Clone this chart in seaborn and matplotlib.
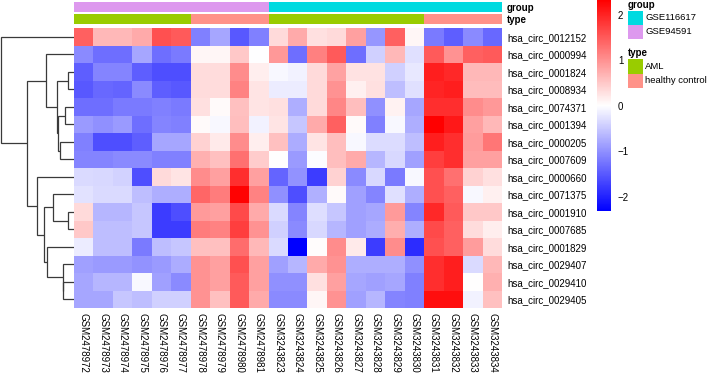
import numpy as np
import pandas as pd
import matplotlib
matplotlib.use("Agg")
import matplotlib.pyplot as plt
import seaborn as sns
from matplotlib.colors import LinearSegmentedColormap, ListedColormap
from matplotlib.patches import Rectangle

# ---------------- data ----------------
samples = ["GSM2478972", "GSM2478973", "GSM2478974", "GSM2478975", "GSM2478976",
           "GSM2478977", "GSM2478978", "GSM2478979", "GSM2478980", "GSM2478981",
           "GSM3243823", "GSM3243824", "GSM3243825", "GSM3243826", "GSM3243827",
           "GSM3243828", "GSM3243829", "GSM3243830", "GSM3243831", "GSM3243832",
           "GSM3243833", "GSM3243834"]

circs = ["hsa_circ_0012152", "hsa_circ_0000994", "hsa_circ_0001824", "hsa_circ_0008934",
         "hsa_circ_0074371", "hsa_circ_0001394", "hsa_circ_0000205", "hsa_circ_0007609",
         "hsa_circ_0000660", "hsa_circ_0071375", "hsa_circ_0001910", "hsa_circ_0007685",
         "hsa_circ_0001829", "hsa_circ_0029407", "hsa_circ_0029410", "hsa_circ_0029405"]

group = ["GSE94591", "GSE94591", "GSE94591", "GSE94591", "GSE94591",
         "GSE94591", "GSE94591", "GSE94591", "GSE94591", "GSE94591",
         "GSE116617", "GSE116617", "GSE116617", "GSE116617", "GSE116617",
         "GSE116617", "GSE116617", "GSE116617", "GSE116617", "GSE116617",
         "GSE116617", "GSE116617"]

sample_type = ["AML", "AML", "AML", "AML", "AML", "AML",
               "healthy control", "healthy control", "healthy control", "healthy control",
               "AML", "AML", "AML", "AML", "AML", "AML", "AML", "AML",
               "healthy control", "healthy control", "healthy control", "healthy control"]

r01 = [1.45, 0.65, 0.65, 0.78, 1.6, 1.5, -1.15, -0.8, -1.5, -1.15, 0.35, 0.78, 0.29, 0.35, 0.87, -0.95, 1.45, 0.1, -1.2, -1.45, -1.05, -1.35]
r02 = [-1.05, -1.3, -1.3, -0.8, -1.3, -1.2, 0.1, 0.1, 0.5, 0.0, 0.95, -1.3, 1.17, 1.5, -1.3, -0.42, 0.65, -0.28, 1.5, 1.0, 1.45, 1.5]
r03 = [-1.45, -1.1, -1.1, -1.45, -1.6, -1.6, 0.32, 0.32, 1.05, 0.17, -0.05, -0.1, 0.35, 0.85, 0.28, 0.28, -0.42, -0.2, 2.05, 1.95, 0.65, 0.65]
r04 = [-1.5, -1.35, -1.4, -1.05, -1.45, -1.5, 0.32, 0.32, 1.15, 0.25, -0.17, -0.17, 0.35, 1.0, 0.15, 0.3, -0.58, -0.28, 2.0, 2.05, 0.62, 0.62]
r05 = [-1.3, -1.3, -1.2, -1.2, -1.15, -1.2, 0.29, 0.05, 0.58, 0.25, 0.3, -0.72, 0.35, 1.1, 0.6, -1.0, 0.12, -0.8, 1.9, 1.9, 1.05, 0.95]
r06 = [-0.9, -1.0, -0.9, -1.3, -1.1, -1.15, 0.05, -0.05, 0.6, -0.1, 0.25, -0.5, 0.78, 1.45, 0.05, -1.15, -0.05, -0.72, 2.33, 2.1, 0.87, 0.65]
r07 = [-1.15, -1.6, -1.6, -1.45, -0.8, -0.8, 0.42, 0.2, 1.05, 0.17, 0.58, -0.75, 0.25, 0.6, -0.05, -0.3, -0.3, -0.58, 2.05, 1.9, 0.9, 1.25]
r08 = [-1.1, -1.1, -1.05, -1.05, -1.15, -1.15, 0.72, 0.58, 1.3, 0.48, 0.02, -0.9, -0.02, 0.6, 0.78, -0.65, -0.35, -0.86, 1.75, 1.9, 0.87, 0.87]
r09 = [-0.32, -0.35, -0.4, -1.6, 0.35, 0.25, 1.05, 0.87, 1.9, 0.87, -1.4, -0.97, -1.75, 0.42, -1.05, -0.35, -1.2, -0.05, 1.6, 1.3, 0.42, 0.29]
r10 = [-0.25, -0.32, -0.32, -0.58, -0.72, -0.72, 1.4, 1.2, 2.3, 1.15, -1.0, -1.6, -0.7, 0.05, -0.86, -1.1, -0.28, -0.72, 1.6, 1.45, -0.05, 0.15]
r11 = [0.35, -0.65, -0.65, -0.5, -1.75, -1.6, 0.92, 0.87, 1.65, 0.78, -0.32, -1.1, -0.29, -0.5, -0.86, -0.8, 0.92, -1.1, 1.95, 1.5, 0.5, 0.5]
r12 = [0.5, -0.58, -0.58, -0.5, -1.75, -1.75, 1.2, 1.15, 1.75, 1.0, -0.42, -1.05, -0.35, -0.65, -0.86, -0.75, 0.75, -0.72, 1.65, 1.45, 0.32, 0.17]
r13 = [-0.17, -0.58, -0.58, -1.2, -0.58, -0.5, 0.58, 0.58, 1.35, 0.65, -0.32, -2.31, 0.03, 1.05, 0.2, -1.75, 1.05, -1.9, 1.6, 1.45, 0.9, 0.32]
r14 = [-0.86, -0.9, -0.9, -0.97, -0.9, -0.75, 1.0, 0.87, 1.6, 0.87, -0.86, -0.65, 0.78, 1.0, -0.72, -0.72, -0.72, -1.0, 1.9, 2.05, -0.32, 0.65]
r15 = [-0.8, -0.65, -0.65, -0.05, -0.86, -1.05, 1.0, 0.87, 1.5, 0.87, -1.0, -1.0, 0.29, 0.87, -0.8, -0.86, -0.8, -1.15, 1.9, 2.05, 0.02, 0.72]
r16 = [-0.8, -0.8, -0.5, -0.58, -0.42, -0.42, 1.0, 0.58, 1.5, 0.78, -1.05, -1.05, 0.1, 1.0, -0.86, -0.65, -1.1, -1.15, 2.2, 2.2, -0.1, 0.58]

# row dendrogram merges: (child_a, child_b, height); leaves 0..15, new clusters 16..
merges = [(2, 3, 17), (4, 5, 27), (6, 7, 42), (17, 18, 47), (16, 19, 50),
          (1, 20, 84), (10, 11, 17), (9, 22, 64), (14, 15, 32), (13, 24, 34),
          (12, 25, 82), (23, 26, 89), (8, 27, 110), (21, 28, 140), (0, 29, 219)]

group_colors = {"GSE116617": "#00DAE0", "GSE94591": "#DD99EE"}
type_colors = {"AML": "#99CC00", "healthy control": "#FF9289"}

# ---------------- figure ----------------
plt.rcParams['font.family'] = ['Liberation Sans', 'DejaVu Sans']
W, H = 708, 373
fig = plt.figure(figsize=(W / 100, H / 100), dpi=100)


def ax_px(l, t, r, b):
    return fig.add_axes([l / W, 1 - b / H, (r - l) / W, (b - t) / H])


mat = pd.DataFrame([r01, r02, r03, r04, r05, r06, r07, r08, r09, r10, r11, r12, r13, r14, r15, r16],
                   index=circs, columns=samples)

cmap = LinearSegmentedColormap.from_list("bwr_ph", ["#0000FF", "#FFFFFF", "#FF0000"], N=256)

ax = ax_px(74, 28, 502, 308)
cax = ax_px(597, 0, 611, 211)
sns.heatmap(mat, ax=ax, cmap=cmap, vmin=-2.31, vmax=2.33, cbar_ax=cax,
            xticklabels=True, yticklabels=True, linewidths=0)
ax.yaxis.tick_right()
ax.tick_params(axis='y', length=0, pad=3.6, labelsize=7, labelrotation=0)
ax.tick_params(axis='x', length=0, pad=3.6, labelsize=7)
for t in ax.get_yticklabels():
    t.set_rotation(0)
    t.set_ha('left')
for t in ax.get_xticklabels():
    t.set_rotation(270)
    t.set_va('top')
    t.set_ha('center')
ax.set_xlabel("")
ax.set_ylabel("")

cbar = ax.collections[0].colorbar
cbar.outline.set_visible(False)
cbar.set_ticks([-2, -1, 0, 1, 2])
cbar.set_ticklabels(["\u22122", "\u22121", "0", "1", "2"])
cax.tick_params(length=0, pad=5, labelsize=7)

# annotation bars
for top, bot, name, vals, cdict in [(2, 12, "group", group, group_colors),
                                    (14, 24, "type", sample_type, type_colors)]:
    a = ax_px(74, top, 502, bot)
    cats = list(cdict.keys())
    codes = np.array([[cats.index(v) for v in vals]])
    sns.heatmap(codes, ax=a, cmap=ListedColormap([cdict[c] for c in cats]),
                vmin=-0.5, vmax=len(cats) - 0.5, cbar=False,
                xticklabels=False, yticklabels=[name], linewidths=0)
    a.yaxis.tick_right()
    a.tick_params(axis='y', length=0, pad=3.6, labelsize=7)
    for t in a.get_yticklabels():
        t.set_rotation(0)
        t.set_ha('left')
        t.set_fontweight('bold')
    a.set_xlabel("")
    a.set_ylabel("")

# dendrogram
dax = ax_px(0, 28, 74, 308)
n = len(circs)
pos = {i: i + 0.5 for i in range(n)}
hgt = {i: 0.0 for i in range(n)}
for k, (a_, b_, h) in enumerate(merges):
    cid = n + k
    ya, yb = pos[a_], pos[b_]
    dax.plot([hgt[a_], h, h, hgt[b_]], [ya, ya, yb, yb], color="#3a3a3a", lw=0.9,
             solid_capstyle='butt', solid_joinstyle='miter')
    pos[cid] = (ya + yb) / 2
    hgt[cid] = h
dax.set_xlim(222, 0)
dax.set_ylim(n, 0)
dax.axis('off')

# legend
lg = fig.add_axes([0, 0, 1, 1])
lg.set_xlim(0, W)
lg.set_ylim(H, 0)
lg.axis('off')
lg.text(628, 5, "group", fontsize=7, fontweight='bold', va='center', ha='left')
for i, (k, c) in enumerate(group_colors.items()):
    y0 = 11 + 14 * i
    lg.add_patch(Rectangle((628, y0), 15, 14, color=c, lw=0))
    lg.text(645, y0 + 7, k, fontsize=6.8, va='center', ha='left')
lg.text(628, 53, "type", fontsize=7, fontweight='bold', va='center', ha='left')
for i, (k, c) in enumerate(type_colors.items()):
    y0 = 59 + 14.5 * i
    lg.add_patch(Rectangle((628, y0), 15, 14.5, color=c, lw=0))
    lg.text(645, y0 + 7.25, k, fontsize=6.8, va='center', ha='left')

fig.savefig("out.png", dpi=100)
